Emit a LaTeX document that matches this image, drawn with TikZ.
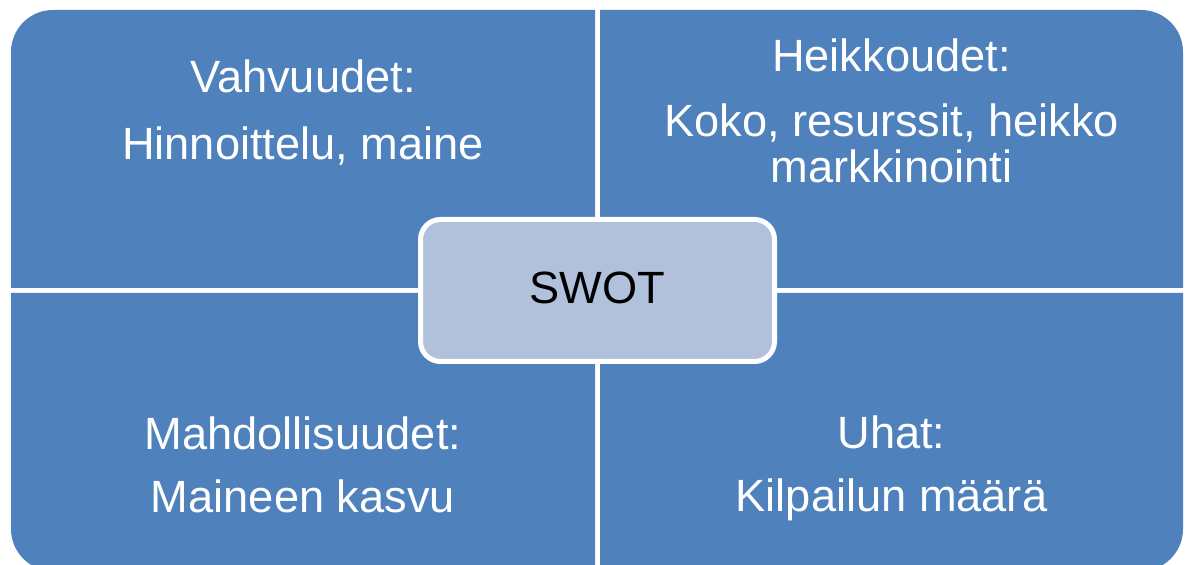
\documentclass[tikz,border=0pt]{standalone}
\usepackage{fontspec}
\setmainfont{Liberation Sans}
\definecolor{quadblue}{HTML}{4F81BD}
\definecolor{swotlight}{HTML}{B2C1DB}
\begin{document}
\begin{tikzpicture}[x=0.5pt,y=-0.5pt,
  quad/.style={fill=quadblue},
  qtext/.style={text=white,anchor=base,inner sep=0pt,font=\fontsize{22.6}{26}\selectfont},
  centerbox/.style={draw=white,line width=2.5pt,fill=swotlight,rounded corners=10pt,
    minimum width=177pt,minimum height=71pt,inner sep=0pt,text=black}]
\clip (0,0) rectangle (1188,565);
\fill[white] (0,0) rectangle (1188,565);
% quadrants
\fill[quad] (300,10) [rounded corners=21pt] -- (11,10) -- (11,150) [sharp corners] -- (11,288) -- (595,288) -- (595,10) -- cycle;
\fill[quad] (900,10) [rounded corners=21pt] -- (1183,10) -- (1183,150) [sharp corners] -- (1183,288) -- (600,288) -- (600,10) -- cycle;
\fill[quad] (300,571) [rounded corners=21pt] -- (11,571) -- (11,430) [sharp corners] -- (11,293) -- (595,293) -- (595,571) -- cycle;
\fill[quad] (900,571) [rounded corners=21pt] -- (1183,571) -- (1183,430) [sharp corners] -- (1183,293) -- (600,293) -- (600,571) -- cycle;
% texts
\node[qtext] (s1) at (303,93) {Vahvuudet:};
\node[qtext] (s2) at (303,160) {Hinnoittelu, maine};
\node[qtext] (w1) at (891.5,72) {Heikkoudet:};
\node[qtext] (w2) at (891.5,137) {Koko, resurssit, heikko};
\node[qtext] (w3) at (891.5,183) {markkinointi};
\node[qtext] (o1) at (303,450) {Mahdollisuudet:};
\node[qtext] (o2) at (303,513) {Maineen kasvu};
\node[qtext] (t1) at (891.5,449) {Uhat:};
\node[qtext] (t2) at (891.5,512) {Kilpailun määrä};
% centre
\node[centerbox] (swot) at (597.5,290.5) {};
\node[anchor=base,inner sep=0pt,text=black,font=\fontsize{22.6}{26}\selectfont] (swotlabel) at (597.5,304) {SWOT};
\end{tikzpicture}
\end{document}
